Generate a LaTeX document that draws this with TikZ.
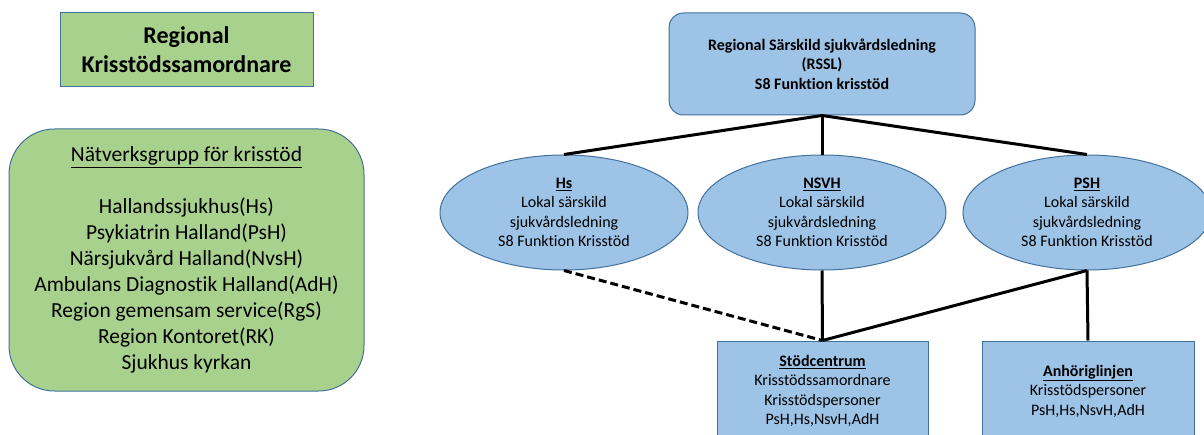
\documentclass[tikz,border=0pt]{standalone}
\usepackage{fontspec}
\setmainfont[Ligatures={NoCommon}]{Carlito}
\usetikzlibrary{shapes.geometric}
\definecolor{boxblue}{HTML}{9DC3E6}
\definecolor{boxgreen}{HTML}{A9D18E}
\definecolor{edgeblue}{HTML}{41719C}

\begin{document}
\begin{tikzpicture}[x=0.75pt,y=-0.75pt,
		greenbox/.style={draw=edgeblue,line width=0.75pt,fill=boxgreen,align=center,inner sep=0pt},
		bluebox/.style={draw=edgeblue,line width=0.75pt,fill=boxblue,align=center,inner sep=0pt,font=\fontsize{12}{14.6}\selectfont},
		unit/.style={bluebox,ellipse,minimum width=186pt,minimum height=86.25pt},
		link/.style={line width=2.25pt}]
				\path[use as bounding box] (0,0) rectangle (1204,435);
				\clip (0,0) rectangle (1204,435);

				\node[greenbox,minimum width=189.75pt,minimum height=55.5pt,font=\fontsize{18}{21.75}\selectfont\bfseries] (coord) at (186.5,50) {Regional\\Krisstödssamordnare};
				\node[greenbox,rounded corners=34pt,minimum width=266.25pt,minimum height=196.5pt,font=\fontsize{16.1}{19.5}\selectfont] (network) at (186.5,260) {\underline{Nätverksgrupp för krisstöd}\\[19.5pt]
					Hallandssjukhus(Hs)\\Psykiatrin Halland(PsH)\\Närsjukvård Halland(NvsH)\\Ambulans Diagnostik Halland(AdH)\\Region gemensam service(RgS)\\Region Kontoret(RK)\\Sjukhus kyrkan};

				\node[bluebox,rounded corners=11pt,minimum width=229.5pt,minimum height=76.5pt,font=\fontsize{12}{14.6}\selectfont\bfseries] (rssl) at (822,64) {Regional Särskild sjukvårdsledning\\(RSSL)\\S8 Funktion krisstöd};

				\foreach \name/\title/\x in {hs/Hs/564,nsvh/NSVH/822,psh/PSH/1087} {
					\node[unit] (\name) at (\x,212.5) {\underline{\textbf{\title}}\\Lokal särskild\\sjukvårdsledning\\S8 Funktion Krisstöd};
				}

				\node[bluebox,minimum width=158.25pt,minimum height=75pt] (stod) at (822.5,391) {\underline{\textbf{Stödcentrum}}\\Krisstödssamordnare\\Krisstödspersoner\\PsH,Hs,NsvH,AdH};
				\node[bluebox,minimum width=159pt,minimum height=75pt] (anhor) at (1088,391) {\underline{\textbf{Anhöriglinjen}}\\Krisstödspersoner\\PsH,Hs,NsvH,AdH};

				\foreach \name in {hs,nsvh,psh} {
					\draw[link] (rssl.south) -- (\name.north);
				}
				\draw[link,dash pattern=on 6pt off 3pt] (hs.south) -- (stod.north);
				\draw[link] (nsvh.south) -- (stod.north);
				\draw[link] (psh.south) -- (stod.north);
				\draw[link] (psh.south) -- (anhor.north);
			\end{tikzpicture}
\end{document}
